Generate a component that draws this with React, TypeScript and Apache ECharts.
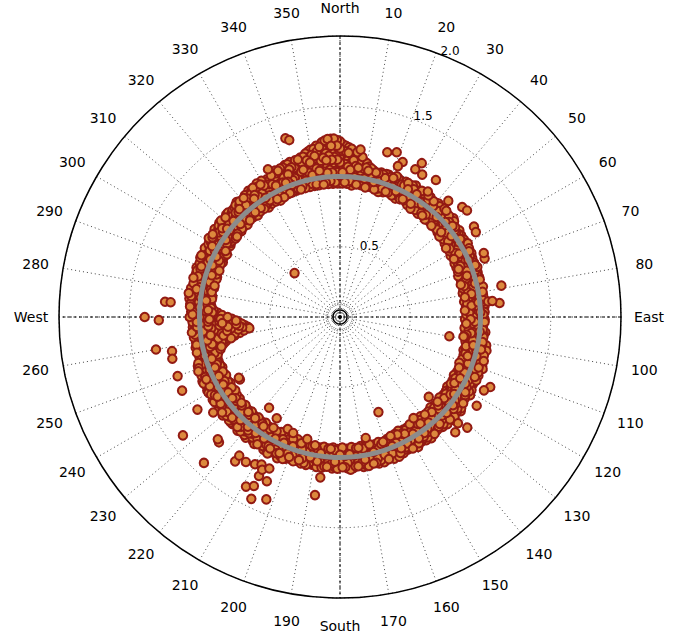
import React, { useEffect, useRef } from "react";
import * as echarts from "echarts";

// Angle tick labels (degrees clockwise from north)
const ANGLE_NAMES: Record<number, string> = { 0: "North", 90: "East", 180: "South", 270: "West" };
// Radial tick labels
const RADIAL_TICKS = [0.5, 1.0, 1.5, 2.0];
// Reference circle radius
const REFERENCE_RADIUS = [1.0];
// Compass cross lines [radius, angle]
const CROSS_NS = [[2, 0], [2, 180]];
const CROSS_EW = [[2, 90], [2, 270]];

// Dense band of observations at even angles: [angle, r1, r2, ...]
const BAND: number[][] = [
  [0, 0.97, 1.01, 1.05, 1.1, 1.15, 1.2, 1.25],
  [2, 0.96, 1.0, 1.04, 1.09, 1.13, 1.18, 1.22],
  [4, 0.97, 1.01, 1.05, 1.1, 1.15, 1.2],
  [6, 0.96, 1.0, 1.04, 1.08, 1.13, 1.18],
  [8, 0.97, 1.01, 1.05, 1.1, 1.15],
  [10, 0.96, 1.0, 1.04, 1.08, 1.11],
  [12, 0.97, 1.01, 1.05, 1.08],
  [14, 0.96, 0.99, 1.03, 1.06],
  [16, 0.95, 0.99, 1.03, 1.07],
  [18, 0.96, 1.0, 1.04, 1.07],
  [20, 0.95, 0.99, 1.03, 1.06],
  [22, 0.96, 1.0, 1.04, 1.08],
  [24, 0.95, 0.98, 1.02, 1.06],
  [26, 0.96, 1.0, 1.04, 1.07],
  [28, 0.95, 0.99, 1.03, 1.06],
  [30, 0.94, 0.98, 1.02, 1.05, 1.08],
  [32, 0.95, 0.99, 1.03, 1.06],
  [34, 0.94, 0.98, 1.02, 1.06],
  [36, 0.95, 0.99, 1.03, 1.07],
  [38, 0.94, 0.98, 1.02, 1.05],
  [40, 0.95, 0.99, 1.03, 1.06],
  [42, 0.94, 0.98, 1.02, 1.06],
  [44, 0.95, 0.99, 1.03, 1.07],
  [46, 0.94, 0.97, 1.01, 1.05],
  [48, 0.93, 0.97, 1.01, 1.05],
  [50, 0.94, 0.98, 1.02, 1.06],
  [52, 0.93, 0.97, 1.01, 1.04],
  [54, 0.94, 0.98, 1.02, 1.05],
  [56, 0.93, 0.97, 1.0, 1.04],
  [58, 0.92, 0.96, 1.0, 1.04],
  [60, 0.93, 0.97, 1.01, 1.05],
  [62, 0.92, 0.96, 1.0, 1.04],
  [64, 0.93, 0.97, 1.01, 1.04],
  [66, 0.92, 0.96, 1.0, 1.03],
  [68, 0.91, 0.95, 0.99, 1.03],
  [70, 0.92, 0.96, 1.0, 1.04],
  [72, 0.91, 0.95, 0.99, 1.03],
  [74, 0.92, 0.96, 1.0, 1.03],
  [76, 0.91, 0.95, 0.99, 1.02],
  [78, 0.92, 0.96, 1.0, 1.04],
  [80, 0.91, 0.95, 0.99, 1.03],
  [82, 0.92, 0.96, 1.0, 1.03],
  [84, 0.91, 0.95, 0.99, 1.02, 1.06],
  [86, 0.91, 0.95, 0.99, 1.03],
  [88, 0.92, 0.96, 1.0, 1.03],
  [90, 0.91, 0.95, 0.99, 1.02],
  [92, 0.92, 0.96, 1.0, 1.03],
  [94, 0.91, 0.95, 0.99, 1.02],
  [96, 0.92, 0.96, 1.0, 1.04],
  [98, 0.91, 0.95, 0.99, 1.03],
  [100, 0.92, 0.96, 1.0, 1.03],
  [102, 0.93, 0.97, 1.01, 1.04],
  [104, 0.92, 0.96, 1.0, 1.04],
  [106, 0.93, 0.97, 1.01, 1.05],
  [108, 0.94, 0.98, 1.02, 1.05],
  [110, 0.93, 0.97, 1.01, 1.05, 1.08],
  [112, 0.94, 0.98, 1.02, 1.06],
  [114, 0.93, 0.97, 1.01, 1.05],
  [116, 0.94, 0.98, 1.02, 1.06],
  [118, 0.93, 0.97, 1.01, 1.04],
  [120, 0.94, 0.98, 1.02, 1.06],
  [122, 0.93, 0.97, 1.01, 1.05],
  [124, 0.94, 0.98, 1.02, 1.06],
  [126, 0.93, 0.97, 1.01, 1.05],
  [128, 0.94, 0.98, 1.02, 1.06, 1.09],
  [130, 0.93, 0.97, 1.01, 1.05],
  [132, 0.94, 0.98, 1.02, 1.06, 1.1],
  [134, 0.93, 0.97, 1.01, 1.05],
  [136, 0.94, 0.98, 1.02, 1.06],
  [138, 0.93, 0.97, 1.01, 1.05],
  [140, 0.94, 0.98, 1.02, 1.06],
  [142, 0.93, 0.97, 1.01, 1.04],
  [144, 0.94, 0.98, 1.02, 1.06],
  [146, 0.93, 0.97, 1.01, 1.05],
  [148, 0.94, 0.98, 1.02, 1.06],
  [150, 0.93, 0.97, 1.01, 1.05],
  [152, 0.94, 0.98, 1.02, 1.06],
  [154, 0.93, 0.97, 1.01, 1.05],
  [156, 0.94, 0.98, 1.02, 1.06],
  [158, 0.95, 0.99, 1.03, 1.06],
  [160, 0.94, 0.98, 1.02, 1.06],
  [162, 0.95, 0.99, 1.03, 1.07],
  [164, 0.94, 0.98, 1.02, 1.06],
  [166, 0.95, 0.99, 1.03, 1.07],
  [168, 0.94, 0.98, 1.02, 1.06],
  [170, 0.95, 0.99, 1.03, 1.07],
  [172, 0.94, 0.98, 1.02, 1.06],
  [174, 0.95, 0.99, 1.03, 1.07],
  [176, 0.94, 0.98, 1.02, 1.06, 1.09],
  [178, 0.95, 0.99, 1.03, 1.07],
  [180, 0.94, 0.98, 1.02, 1.06],
  [182, 0.95, 0.99, 1.03, 1.07],
  [184, 0.94, 0.98, 1.02, 1.06],
  [186, 0.95, 0.99, 1.03, 1.07],
  [188, 0.94, 0.98, 1.02, 1.06],
  [190, 0.95, 0.99, 1.03, 1.07],
  [192, 0.94, 0.98, 1.02, 1.06],
  [194, 0.95, 0.99, 1.03, 1.07],
  [196, 0.94, 0.98, 1.02, 1.06],
  [198, 0.93, 0.97, 1.01, 1.05, 1.08],
  [200, 0.94, 0.98, 1.02, 1.06],
  [202, 0.93, 0.97, 1.01, 1.05, 1.09],
  [204, 0.94, 0.98, 1.02, 1.06, 1.1],
  [206, 0.93, 0.97, 1.01, 1.05],
  [208, 0.94, 0.98, 1.02, 1.06, 1.1],
  [210, 0.93, 0.97, 1.01, 1.05, 1.09],
  [212, 0.94, 0.98, 1.02, 1.06],
  [214, 0.93, 0.97, 1.01, 1.05, 1.09],
  [216, 0.94, 0.98, 1.02, 1.06],
  [218, 0.93, 0.97, 1.01, 1.05, 1.09],
  [220, 0.94, 0.98, 1.02, 1.06],
  [222, 0.93, 0.97, 1.01, 1.05, 1.09],
  [224, 0.94, 0.98, 1.02, 1.06],
  [226, 0.93, 0.97, 1.01, 1.05, 1.08],
  [228, 0.94, 0.98, 1.02, 1.06],
  [230, 0.93, 0.97, 1.01, 1.05, 1.09],
  [232, 0.94, 0.98, 1.02, 1.06],
  [234, 0.93, 0.97, 1.01, 1.05],
  [236, 0.92, 0.96, 1.0, 1.04, 1.08],
  [238, 0.93, 0.97, 1.01, 1.05],
  [240, 0.92, 0.96, 1.0, 1.04, 1.08],
  [242, 0.93, 0.97, 1.01, 1.05],
  [244, 0.92, 0.96, 1.0, 1.04, 1.08],
  [246, 0.93, 0.97, 1.01, 1.05],
  [248, 0.92, 0.96, 1.0, 1.04],
  [250, 0.93, 0.96, 0.99, 1.03, 1.07],
  [252, 0.93, 0.96, 0.99, 1.02, 1.06],
  [254, 0.9, 0.93, 0.96, 1.0, 1.04],
  [256, 0.87, 0.9, 0.93, 0.97, 1.01, 1.05],
  [258, 0.83, 0.86, 0.89, 0.93, 0.97, 1.01, 1.05],
  [260, 0.76, 0.8, 0.84, 0.88, 0.92, 0.96, 1.0, 1.04],
  [262, 0.69, 0.73, 0.77, 0.81, 0.85, 0.89, 0.93, 0.97, 1.01, 1.05],
  [264, 0.66, 0.7, 0.74, 0.78, 0.82, 0.86, 0.9, 0.94, 0.98, 1.02, 1.06],
  [266, 0.7, 0.74, 0.78, 0.82, 0.86, 0.9, 0.94, 0.98, 1.02, 1.05],
  [268, 0.74, 0.78, 0.82, 0.86, 0.9, 0.94, 0.98, 1.02, 1.05],
  [270, 0.8, 0.84, 0.88, 0.92, 0.96, 1.0, 1.04, 1.07],
  [272, 0.87, 0.91, 0.95, 0.99, 1.03, 1.06],
  [274, 0.92, 0.96, 1.0, 1.04, 1.07],
  [276, 0.93, 0.97, 1.01, 1.05],
  [278, 0.92, 0.96, 1.0, 1.04, 1.07],
  [280, 0.93, 0.97, 1.01, 1.05],
  [282, 0.94, 0.98, 1.02, 1.06],
  [284, 0.92, 0.96, 1.0, 1.04],
  [286, 0.93, 0.97, 1.01, 1.05],
  [288, 0.92, 0.96, 1.0, 1.04, 1.07],
  [290, 0.93, 0.97, 1.01, 1.05],
  [292, 0.94, 0.98, 1.02, 1.06],
  [294, 0.93, 0.97, 1.01, 1.05, 1.08],
  [296, 0.94, 0.98, 1.02, 1.06],
  [298, 0.93, 0.97, 1.01, 1.05],
  [300, 0.94, 0.98, 1.02, 1.06],
  [302, 0.95, 0.99, 1.03, 1.07],
  [304, 0.94, 0.98, 1.02, 1.06],
  [306, 0.95, 0.99, 1.03, 1.07],
  [308, 0.94, 0.98, 1.02, 1.06, 1.09],
  [310, 0.95, 0.99, 1.03, 1.07],
  [312, 0.94, 0.98, 1.02, 1.06, 1.09],
  [314, 0.95, 0.99, 1.03, 1.07],
  [316, 0.96, 1.0, 1.04, 1.08],
  [318, 0.95, 0.99, 1.03, 1.07, 1.1],
  [320, 0.96, 1.0, 1.04, 1.08],
  [322, 0.95, 0.99, 1.03, 1.07, 1.1],
  [324, 0.96, 1.0, 1.04, 1.08, 1.11],
  [326, 0.95, 0.99, 1.03, 1.07, 1.11],
  [328, 0.96, 1.0, 1.04, 1.08, 1.12],
  [330, 0.96, 1.0, 1.04, 1.08, 1.12],
  [332, 0.95, 0.99, 1.03, 1.07, 1.11],
  [334, 0.96, 1.0, 1.04, 1.08, 1.12],
  [336, 0.96, 1.0, 1.04, 1.08, 1.12, 1.14],
  [338, 0.95, 0.99, 1.03, 1.07, 1.11, 1.14],
  [340, 0.96, 1.0, 1.04, 1.08, 1.12, 1.15],
  [342, 0.96, 1.0, 1.04, 1.08, 1.12, 1.16],
  [344, 0.97, 1.01, 1.05, 1.09, 1.13, 1.16],
  [346, 0.96, 1.0, 1.04, 1.08, 1.12, 1.17],
  [348, 0.97, 1.01, 1.05, 1.09, 1.14, 1.19],
  [350, 0.96, 1.0, 1.04, 1.08, 1.13, 1.17, 1.21],
  [352, 0.97, 1.01, 1.05, 1.09, 1.14, 1.19, 1.23],
  [354, 0.96, 1.0, 1.04, 1.09, 1.14, 1.2, 1.25],
  [356, 0.97, 1.01, 1.05, 1.1, 1.15, 1.21, 1.27],
  [358, 0.96, 1.0, 1.04, 1.09, 1.14, 1.2, 1.27],
];

// Further observations at odd angles: [angle, r1, r2, ...]
const BAND_ODD: number[][] = [
  [1, 0.95, 1.03, 1.08, 1.13, 1.18, 1.23],
  [3, 0.95, 1.03, 1.07, 1.12, 1.17, 1.21],
  [5, 0.94, 1.03, 1.07, 1.12, 1.17],
  [7, 0.95, 1.03, 1.07, 1.11, 1.16],
  [9, 0.95, 1.03, 1.07, 1.12],
  [11, 0.94, 1.03, 1.06, 1.09],
  [13, 0.95, 1.03, 1.07],
  [15, 0.94, 1.03, 1.06],
  [17, 0.93, 1.04, 1.06],
  [19, 0.94, 1.03, 1.07],
  [21, 0.95, 1.04, 1.06],
  [23, 0.94, 1.03, 1.07],
  [25, 0.93, 1.04, 1.06],
  [27, 0.94, 1.03, 1.07],
  [29, 0.95, 1.04, 1.07],
  [31, 0.93, 1.03, 1.06],
  [33, 0.92, 1.04, 1.07],
  [35, 0.93, 1.03, 1.06],
  [37, 0.92, 1.04, 1.07],
  [39, 0.93, 1.03, 1.06],
  [41, 0.92, 1.04, 1.07],
  [43, 0.93, 1.03, 1.06],
  [45, 0.92, 1.04, 1.07],
  [47, 0.93, 1.03, 1.06],
  [49, 0.92, 1.03, 1.07],
  [51, 0.91, 0.94, 1.03],
  [53, 0.92, 0.95, 1.02],
  [55, 0.91, 0.94, 1.03],
  [57, 0.9, 0.94, 1.02],
  [59, 0.91, 0.94, 1.03],
  [61, 0.9, 0.94, 1.02],
  [63, 0.91, 0.93, 1.03],
  [65, 0.9, 0.94, 1.02],
  [67, 0.9, 0.93, 1.02],
  [69, 0.9, 0.94, 1.03],
  [71, 0.89, 0.93, 1.02],
  [73, 0.9, 0.94, 1.02],
  [75, 0.89, 0.93, 1.03],
  [77, 0.9, 0.94, 1.02],
  [79, 0.89, 0.93, 1.02],
  [81, 0.9, 0.94, 1.03],
  [83, 0.89, 0.93, 1.02],
  [85, 0.9, 0.94, 1.03],
  [87, 0.89, 0.93, 1.02],
  [89, 0.9, 0.94, 1.02],
  [91, 0.89, 0.93, 1.03],
  [93, 0.9, 0.94, 1.02],
  [95, 0.89, 0.93, 1.02],
  [97, 0.9, 0.94, 1.03],
  [99, 0.9, 0.93, 1.02],
  [101, 0.91, 0.95, 1.03, 1.06],
  [103, 0.92, 0.95, 1.03, 1.07],
  [105, 0.91, 0.96, 1.04, 1.06],
  [107, 0.92, 0.95, 1.03, 1.07],
  [109, 0.92, 0.96, 1.04, 1.07],
  [111, 0.91, 0.95, 1.03, 1.06],
  [113, 0.92, 0.96, 1.04, 1.07],
  [115, 0.92, 0.95, 1.03, 1.07],
  [117, 0.91, 0.96, 1.04, 1.06],
  [119, 0.92, 0.95, 1.03, 1.07],
  [121, 0.92, 0.96, 1.04, 1.08],
  [123, 0.91, 0.95, 1.03, 1.06],
  [125, 0.92, 0.96, 1.04, 1.07],
  [127, 0.92, 0.95, 1.03, 1.08],
  [129, 0.91, 0.96, 1.04, 1.07],
  [131, 0.92, 0.95, 1.03, 1.08],
  [133, 0.92, 0.96, 1.04, 1.07],
  [135, 0.91, 0.95, 1.03, 1.08],
  [137, 0.92, 0.96, 1.04, 1.07],
  [139, 0.92, 0.95, 1.03, 1.06],
  [141, 0.91, 0.96, 1.04, 1.07],
  [143, 0.92, 0.95, 1.03, 1.08],
  [145, 0.92, 0.96, 1.04, 1.07],
  [147, 0.91, 0.95, 1.03, 1.06],
  [149, 0.92, 0.96, 1.04, 1.08],
  [151, 0.92, 0.95, 1.03, 1.07],
  [153, 0.91, 0.96, 1.04, 1.06],
  [155, 0.92, 0.95, 1.03, 1.07],
  [157, 0.92, 0.96, 1.04, 1.08],
  [159, 0.93, 1.04, 1.08],
  [161, 0.94, 1.04, 1.07],
  [163, 0.93, 1.05, 1.08],
  [165, 0.94, 1.04, 1.08],
  [167, 0.93, 1.04, 1.07],
  [169, 0.94, 1.05, 1.08],
  [171, 0.93, 1.04, 1.08],
  [173, 0.94, 1.04, 1.07],
  [175, 0.93, 1.05, 1.08],
  [177, 0.94, 1.04, 1.08],
  [179, 0.93, 1.04, 1.07],
  [181, 0.94, 1.05, 1.08],
  [183, 0.93, 1.04, 1.08],
  [185, 0.94, 1.04, 1.07],
  [187, 0.93, 1.05, 1.08],
  [189, 0.94, 1.04, 1.08],
  [191, 0.93, 1.04, 1.07],
  [193, 0.94, 1.05, 1.08],
  [195, 0.93, 1.04, 1.08],
  [197, 0.94, 1.04, 1.07],
  [199, 0.92, 0.95, 1.04, 1.07],
  [201, 0.93, 0.96, 1.04, 1.08],
  [203, 0.92, 0.95, 1.05, 1.08],
  [205, 0.93, 0.96, 1.04, 1.07],
  [207, 0.92, 0.95, 1.04, 1.08],
  [209, 0.93, 0.96, 1.05, 1.08],
  [211, 0.92, 0.95, 1.04, 1.07],
  [213, 0.93, 0.96, 1.04, 1.08],
  [215, 0.92, 0.95, 1.05, 1.08],
  [217, 0.93, 0.96, 1.04, 1.07],
  [219, 0.92, 0.95, 1.04, 1.08],
  [221, 0.93, 0.96, 1.05, 1.08],
  [223, 0.92, 0.95, 1.04, 1.07],
  [225, 0.93, 0.96, 1.04, 1.08],
  [227, 0.92, 0.95, 1.05, 1.08],
  [229, 0.93, 0.96, 1.04, 1.07],
  [231, 0.92, 0.95, 1.04, 1.08],
  [233, 0.92, 0.96, 1.05, 1.08],
  [235, 0.91, 0.95, 1.04, 1.07],
  [237, 0.92, 0.94, 1.04, 1.08],
  [239, 0.91, 0.95, 1.05, 1.07],
  [241, 0.92, 0.94, 1.04, 1.08],
  [243, 0.91, 0.95, 1.04, 1.07],
  [245, 0.92, 0.94, 1.05, 1.08],
  [247, 0.91, 0.95, 1.04, 1.07],
  [249, 0.92, 0.94, 1.04, 1.08],
  [251, 0.92, 0.95, 1.04, 1.07],
  [253, 0.91, 0.94, 0.97, 1.04],
  [255, 0.88, 0.91, 0.95, 1.03],
  [257, 0.85, 0.88, 0.91, 0.95, 1.03],
  [259, 0.79, 0.83, 0.87, 0.91, 0.95, 1.04],
  [261, 0.72, 0.76, 0.8, 0.84, 0.88, 0.92, 0.96, 1.04],
  [263, 0.65, 0.69, 0.73, 0.77, 0.81, 0.85, 0.89, 0.93, 0.96, 1.04],
  [265, 0.68, 0.72, 0.76, 0.8, 0.84, 0.88, 0.92, 0.96, 1.04],
  [267, 0.72, 0.76, 0.8, 0.84, 0.88, 0.92, 0.96, 1.04],
  [269, 0.77, 0.81, 0.85, 0.89, 0.93, 0.96, 1.05],
  [271, 0.84, 0.88, 0.92, 0.96, 1.05],
  [273, 0.9, 0.94, 1.04],
  [275, 0.92, 0.95, 1.04, 1.07],
  [277, 0.93, 0.96, 1.05, 1.08],
  [279, 0.92, 0.95, 1.04, 1.07],
  [281, 0.93, 0.96, 1.04, 1.08],
  [283, 0.92, 0.95, 1.05, 1.07],
  [285, 0.93, 0.96, 1.04, 1.08],
  [287, 0.92, 0.95, 1.04, 1.07],
  [289, 0.93, 0.96, 1.05, 1.08],
  [291, 0.92, 0.95, 1.04, 1.07],
  [293, 0.93, 0.96, 1.04, 1.08],
  [295, 0.92, 0.95, 1.05, 1.07],
  [297, 0.93, 0.96, 1.04, 1.08],
  [299, 0.92, 0.95, 1.04, 1.07],
  [301, 0.94, 0.97, 1.05, 1.09],
  [303, 0.93, 0.96, 1.05, 1.08],
  [305, 0.94, 0.97, 1.05, 1.09],
  [307, 0.93, 0.96, 1.05, 1.08],
  [309, 0.94, 0.97, 1.05, 1.09],
  [311, 0.93, 0.96, 1.05, 1.08],
  [313, 0.94, 0.97, 1.05, 1.09],
  [315, 0.93, 0.96, 1.05, 1.08],
  [317, 0.94, 0.97, 1.05, 1.09],
  [319, 0.94, 0.97, 1.05, 1.09],
  [321, 0.93, 0.96, 1.05, 1.09],
  [323, 0.94, 0.97, 1.05, 1.09],
  [325, 0.94, 0.97, 1.06, 1.1],
  [327, 0.93, 0.96, 1.05, 1.1],
  [329, 0.94, 0.97, 1.06, 1.1],
  [331, 0.94, 0.97, 1.05, 1.1],
  [333, 0.93, 0.96, 1.06, 1.1],
  [335, 0.94, 0.97, 1.05, 1.1],
  [337, 0.95, 1.04, 1.09, 1.13],
  [339, 0.95, 1.03, 1.07, 1.11, 1.14],
  [341, 0.95, 1.03, 1.07, 1.11, 1.15],
  [343, 0.95, 1.03, 1.07, 1.11, 1.15],
  [345, 0.95, 1.03, 1.07, 1.11, 1.16],
  [347, 0.95, 1.03, 1.07, 1.12, 1.17],
  [349, 0.95, 1.03, 1.07, 1.12, 1.16, 1.2],
  [351, 0.95, 1.03, 1.07, 1.12, 1.16, 1.21],
  [353, 0.95, 1.03, 1.07, 1.12, 1.17, 1.22],
  [355, 0.95, 1.03, 1.07, 1.12, 1.17, 1.22, 1.26],
  [357, 0.95, 1.03, 1.07, 1.12, 1.17, 1.22, 1.27],
  [359, 0.95, 1.03, 1.07, 1.12, 1.17, 1.22, 1.26],
];

// Scattered outliers: [angle, r]
const OUTLIERS: number[][] = [
  [343, 1.33], [344, 1.31], [334, 1.17], [308, 0.93], [314, 0.45],
  [7, 1.2], [16, 1.22], [19, 1.24], [22, 1.19], [21, 1.15], [28, 1.24], [30, 1.17],
  [27, 1.18], [35, 1.19], [35, 1.09], [43, 1.13], [48, 1.17], [50, 1.18], [56, 1.15],
  [58, 1.14], [68, 1.11], [66, 1.12], [79, 1.17], [85, 1.14], [84, 1.09],
  [100, 0.79], [99, 0.89], [115, 1.18], [117, 1.15], [123, 1.16], [132, 0.85],
  [131, 1.2], [135, 1.16], [132, 1.13], [158, 0.73], [168, 0.88], [144, 0.89],
  [237, 1.21], [233, 1.13], [224, 1.24], [225, 1.23], [223, 1.42], [238, 0.84],
  [218, 0.82], [206, 1.44], [202, 1.4], [209, 1.38], [207, 1.35], [204, 1.28],
  [207, 1.27], [216, 1.27], [216, 1.22], [213, 1.23], [210, 1.21], [208, 1.19],
  [207, 1.22], [205, 1.19], [195, 0.9], [188, 1.28], [187, 1.15], [205, 0.88],
  [202, 0.89], [212, 0.85], [233, 1.4],
  [270, 1.39], [269, 1.29], [275, 1.25], [275, 1.21], [279, 1.09], [260, 1.33],
  [258.5, 1.22], [256, 1.23], [250, 1.23], [245, 1.24], [239, 0.84],
];

const CENTER: [number, number] = [340, 317];
const RADIUS = 281;

export default function App() {
  const ref = useRef<HTMLDivElement>(null);
  useEffect(() => {
    if (!ref.current) return;
    const chart = echarts.init(ref.current, undefined, { renderer: "svg" });
    const bandPoints: number[][] = [];
    BAND.forEach(([a, ...rs]) => rs.forEach((r) => bandPoints.push([r, a])));
    BAND_ODD.forEach(([a, ...rs]) => rs.forEach((r) => bandPoints.push([r, a])));
    // draw the band in a scrambled (non-angular) order, as overlapping observations
    const n = bandPoints.length;
    const drawOrder: number[][] = [];
    const step = 97;
    const used = new Array(n).fill(false);
    for (let k = 0, i = 0; k < n; k++) {
      while (used[i]) i = (i + 1) % n;
      used[i] = true;
      drawOrder.push(bandPoints[i]);
      i = (i + step) % n;
    }
    const points = drawOrder.concat(OUTLIERS.map(([a, r]) => [r, a]));

    const font = "DejaVu Sans";
    chart.setOption({
      animation: false,
      textStyle: { fontFamily: font },
      polar: [
        { center: CENTER, radius: RADIUS },
        { center: CENTER, radius: RADIUS },
      ],
      angleAxis: [
        {
          polarIndex: 0,
          type: "value",
          min: 0,
          max: 360,
          interval: 10,
          startAngle: 90,
          clockwise: true,
          axisLine: { show: true, lineStyle: { color: "#000", width: 1.5 } },
          axisTick: { show: false },
          axisLabel: {
            margin: 27,
            color: "#000",
            formatter: (v: number) => `{c|${ANGLE_NAMES[v] ?? String(v)}}`,
            rich: {
              c: {
                width: 2,
                height: 2,
                lineHeight: 2,
                align: "center",
                verticalAlign: "middle",
                fontSize: 14,
                fontFamily: font,
                color: "#000",
              },
            },
          },
          splitLine: { show: true, lineStyle: { color: "#444", width: 1, type: [1, 3] } },
        },
        {
          polarIndex: 1,
          type: "value",
          min: 0,
          max: 360,
          startAngle: 67.5,
          clockwise: true,
          show: false,
        },
      ],
      radiusAxis: [
        {
          polarIndex: 0,
          type: "value",
          min: 0,
          max: 2,
          interval: 0.5,
          axisLine: { show: false },
          axisTick: { show: false },
          axisLabel: { show: false },
          splitLine: { show: true, lineStyle: { color: "#444", width: 1, type: [1, 3] } },
        },
        {
          polarIndex: 1,
          type: "value",
          min: 0,
          max: 2,
          interval: 0.5,
          axisLine: { show: false },
          axisTick: { show: false },
          splitLine: { show: false },
          axisLabel: {
            show: true,
            margin: 0,
            rotate: 0,
            align: "center",
            verticalAlign: "middle",
            color: "#000",
            formatter: (v: number) =>
              RADIAL_TICKS.includes(v) ? `{g| }{r|${v.toFixed(1)}}\n{s| }` : "",
            rich: {
              g: { width: 5, fontSize: 12, lineHeight: 14 },
              r: { fontSize: 12, lineHeight: 14, fontFamily: font, color: "#000" },
              s: { fontSize: 12, lineHeight: 12, fontFamily: font },
            },
          },
        },
      ],
      series: [
        {
          type: "line",
          coordinateSystem: "polar",
          polarIndex: 0,
          data: CROSS_NS,
          symbol: "none",
          lineStyle: { color: "#000", width: 1, type: [3, 2.5] },
          z: 1,
        },
        {
          type: "line",
          coordinateSystem: "polar",
          polarIndex: 0,
          data: CROSS_EW,
          symbol: "none",
          lineStyle: { color: "#000", width: 1, type: [3, 2.5] },
          z: 1,
        },
        {
          type: "scatter",
          coordinateSystem: "polar",
          polarIndex: 0,
          data: points,
          symbol: "circle",
          symbolSize: 8.5,
          progressive: 0,
          large: false,
          itemStyle: { color: "#dc893d", borderColor: "#931a13", borderWidth: 2, opacity: 1 },
          z: 3,
        },
        {
          type: "custom",
          coordinateSystem: "polar",
          polarIndex: 0,
          data: REFERENCE_RADIUS.map((r) => [r, 0]),
          z: 5,
          renderItem: (_p: any, api: any) => {
            const c = api.coord([0, 0]);
            const q = api.coord([api.value(0), 0]);
            const rr = Math.hypot(q[0] - c[0], q[1] - c[1]);
            return {
              type: "circle",
              shape: { cx: c[0], cy: c[1], r: rr },
              style: { fill: "none", stroke: "#8c8c8c", lineWidth: 5 },
            };
          },
        },
      ],
      graphic: [
        {
          type: "circle",
          shape: { cx: CENTER[0], cy: CENTER[1], r: 14 },
          style: { fill: "none", stroke: "#333", lineWidth: 1, lineDash: [1, 2] },
          z: 10,
        },
        {
          type: "circle",
          shape: { cx: CENTER[0], cy: CENTER[1], r: 7 },
          style: { fill: "none", stroke: "#000", lineWidth: 1.5 },
          z: 10,
        },
        {
          type: "circle",
          shape: { cx: CENTER[0], cy: CENTER[1], r: 2 },
          style: { fill: "#000" },
          z: 10,
        },
      ],
    });
    return () => chart.dispose();
  }, []);
  return (
    <div
      ref={ref}
      style={{ position: "absolute", left: 0, top: 0, width: 683, height: 636, background: "#fff" }}
    />
  );
}
